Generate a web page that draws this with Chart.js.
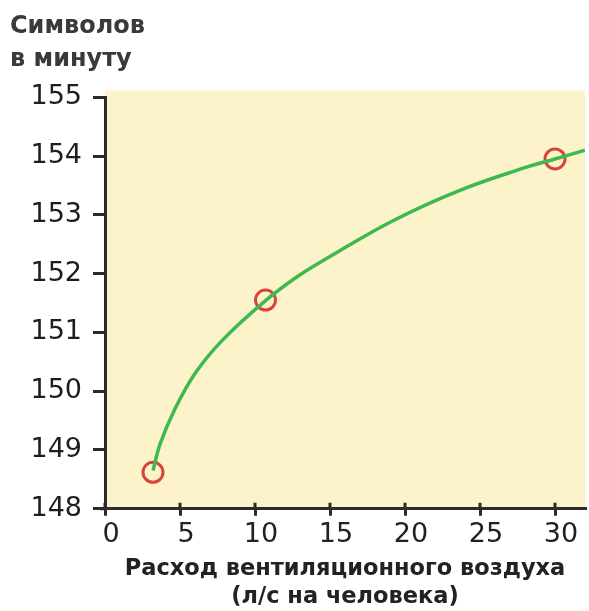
<!DOCTYPE html>
<html>
<head>
<meta charset="utf-8">
<script src="https://cdn.jsdelivr.net/npm/chart.js@4"></script>
<style>
  html, body { margin: 0; padding: 0; background: #fff; overflow: hidden; }
  canvas { display: block; }
</style>
</head>
<body>
<canvas id="chart" width="589" height="611"></canvas>
<script>
// fitted curve
const curveX = [3.2, 3.67, 4.67, 6.0, 7.8, 10.7, 13, 14.8, 19.2, 23.7, 28.1, 30, 32];
const curveY = [148.65, 149.1, 149.7, 150.3, 150.86, 151.54, 151.98, 152.26, 152.9, 153.42, 153.81, 153.95, 154.1];

// measured points (red circles)
const pointX = [3.2, 10.7, 30];
const pointY = [148.62, 151.55, 153.95];

const xTicks = [0, 5, 10, 15, 20, 25, 30];
const yTicks = [148, 149, 150, 151, 152, 153, 154, 155];

const yTitle = ["Символов", "в минуту"];
const xTitle = ["Расход вентиляционного воздуха", "(л/с на человека)"];

const axisColor = "#2b2b2b";
const font = "'DejaVu Sans', sans-serif";

// yellow panel behind the plot, a bit taller than the axis
const panelBg = {
  id: "panelBg",
  beforeDraw(chart) {
    const { ctx, chartArea } = chart;
    ctx.save();
    ctx.fillStyle = "#fdf3cb";
    ctx.fillRect(chartArea.left, chartArea.top - 7, chartArea.right - chartArea.left, chartArea.bottom - chartArea.top + 7);
    ctx.restore();
  },
};

// x ticks cross the axis line, draw the part above it
const crossTicks = {
  id: "crossTicks",
  afterDraw(chart) {
    const { ctx } = chart;
    const xs = chart.scales.x;
    ctx.save();
    ctx.strokeStyle = axisColor;
    ctx.lineWidth = 3;
    xs.ticks.forEach((t, i) => {
      const px = xs.getPixelForTick(i);
      ctx.beginPath();
      ctx.moveTo(px, xs.top);
      ctx.lineTo(px, xs.top - 6);
      ctx.stroke();
    });
    // axis line runs a little past the y axis
    ctx.beginPath();
    ctx.moveTo(xs.left - 5, xs.top);
    ctx.lineTo(xs.left, xs.top);
    ctx.stroke();
    ctx.restore();
  },
};

new Chart(document.getElementById("chart"), {
  type: "scatter",
  data: {
    datasets: [
      {
        type: "line",
        data: curveX.map((x, i) => ({ x, y: curveY[i] })),
        borderColor: "#3dba4e",
        borderWidth: 3.5,
        pointRadius: 0,
        tension: 0.4,
        fill: false,
        order: 1,
      },
      {
        data: pointX.map((x, i) => ({ x, y: pointY[i] })),
        pointRadius: 10,
        pointBorderWidth: 3,
        pointBorderColor: "#d8443d",
        pointBackgroundColor: "rgba(0,0,0,0)",
        order: 2,
      },
    ],
  },
  options: {
    responsive: false,
    animation: false,
    layout: { autoPadding: false, padding: { left: 10, right: 4, top: 0, bottom: 0 } },
    plugins: {
      legend: { display: false },
      tooltip: { enabled: false },
      title: {
        display: true,
        text: yTitle,
        align: "start",
        color: "#3a3a3a",
        font: { family: font, size: 24, weight: "bold", lineHeight: 1.38 },
        padding: { top: 10, bottom: 21 },
      },
    },
    scales: {
      x: {
        type: "linear",
        min: 0,
        max: 32,
        afterBuildTicks: (s) => { s.ticks = xTicks.map((v) => ({ value: v })); },
        grid: { drawOnChartArea: false, color: axisColor, tickColor: axisColor, tickLength: 7, lineWidth: 3 },
        border: { color: axisColor, width: 3 },
        ticks: {
          color: "#222",
          font: { family: font, size: 27, lineHeight: 1.0 },
          padding: 6,
          maxRotation: 0,
          labelOffset: 6,
        },
        title: {
          display: true,
          text: xTitle,
          color: "#222",
          font: { family: font, size: 22.5, weight: "bold", lineHeight: 1.25 },
          padding: { top: 0, bottom: 0 },
        },
      },
      y: {
        type: "linear",
        min: 148,
        max: 155,
        afterBuildTicks: (s) => { s.ticks = yTicks.map((v) => ({ value: v })); },
        afterFit: (s) => { s.width = 95; },
        grid: { drawOnChartArea: false, color: axisColor, tickColor: axisColor, tickLength: 12, lineWidth: 3 },
        border: { color: axisColor, width: 3 },
        ticks: { color: "#1e1e1e", font: { family: font, size: 27 }, padding: 11 },
      },
    },
  },
  plugins: [panelBg, crossTicks],
});
</script>
</body>
</html>
